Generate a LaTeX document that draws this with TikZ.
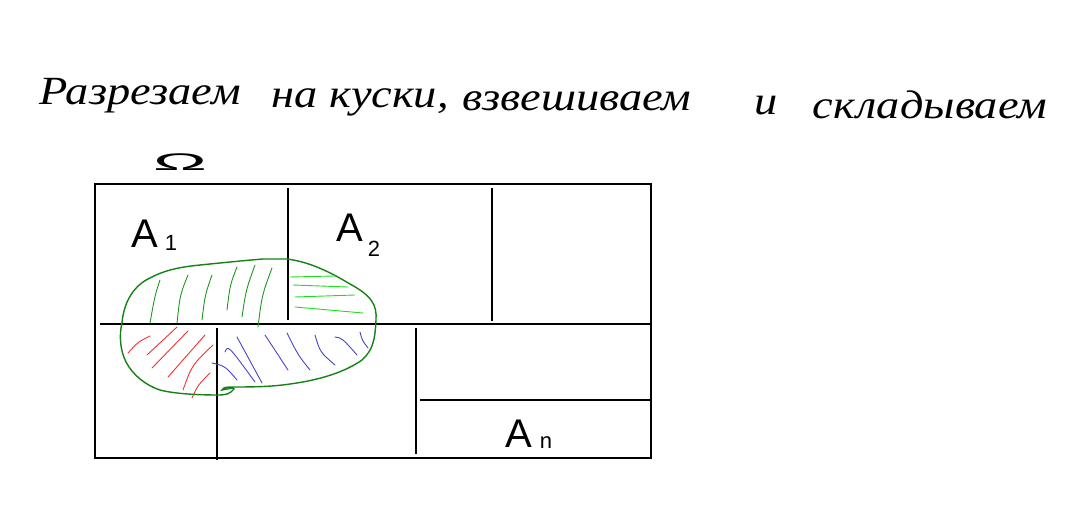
\documentclass[tikz,border=0pt]{standalone}
\usepackage{fontspec}
\setmainfont{Liberation Serif}
\setsansfont{Liberation Sans}
\newcommand{\stretchword}[1]{\scalebox{1.16}[1]{#1}}
\begin{document}
\begin{tikzpicture}[x=1pt,y=-1pt,
  frame/.style={line width=1.8pt,black},
  blob/.style={line width=1.4pt,draw={rgb,255:red,20;green,130;blue,20}},
  ghatch/.style={line width=0.9pt,draw={rgb,255:red,30;green,150;blue,30},line cap=round},
  lhatch/.style={line width=0.9pt,draw={rgb,255:red,30;green,220;blue,30},line cap=round},
  rhatch/.style={line width=0.9pt,draw={rgb,255:red,240;green,50;blue,50},line cap=round},
  bhatch/.style={line width=0.9pt,draw={rgb,255:red,70;green,70;blue,200},line cap=round},
  word/.style={anchor=base,inner sep=0pt,font=\fontsize{40}{46}\selectfont\itshape},
  lbl/.style={inner sep=0pt,font=\fontsize{40}{44}\selectfont\sffamily\mdseries},
  sub/.style={inner sep=0pt,font=\fontsize{22}{24}\selectfont\sffamily}]
\useasboundingbox (0,0) rectangle (1081,510);
% heading
\node[word] (w1) at (140,105) {\stretchword{Разрезаем}};
\node[word] (w2) at (295,108) {\stretchword{на}};
\node[word] (w3) at (389,108) {\stretchword{куски,}};
\node[word] (w4) at (577,111) {\stretchword{взвешиваем}};
\node[word] (w5) at (766,115) {\stretchword{и}};
\node[word] (w6) at (930,119) {\stretchword{складываем}};
% Omega
\node[inner sep=0pt,font=\fontsize{24}{26}\selectfont\sffamily] (om) at (180,162) {\scalebox{3}[1]{Ω}};
% frame
\draw[frame] (95,184) rectangle (651,458);
\draw[frame] (288,188) -- (288,320);
\draw[frame] (492,188) -- (492,321);
\draw[frame] (100,324) -- (650,324);
\draw[frame] (217,328) -- (217,460);
\draw[frame] (416,328) -- (416,454);
\draw[frame] (420,400) -- (651,400);
% labels
\node[lbl] (a1) at (145,234) {A};
\node[sub] (s1) at (171,243) {1};
\node[lbl] (a2) at (350,228) {A};
\node[sub] (s2) at (374,249) {2};
\node[lbl] (an) at (519,434) {A};
\node[sub] (sn) at (546,443) {n};
% blob
\draw[blob] (122,323) .. controls (124,300) and (135,285) .. (150,278)
  .. controls (165,270) and (180,267) .. (200,265)
  .. controls (230,262) and (250,260) .. (263,259)
  -- (287,259) .. controls (310,262) and (330,272) .. (350,284)
  .. controls (372,296) and (377,305) .. (376,320)
  .. controls (375,340) and (373,350) .. (362,360)
  .. controls (345,372) and (320,380) .. (290,384)
  .. controls (270,387) and (250,387) .. (230,387)
  .. controls (224,387) and (222,389) .. (222,390)
  .. controls (228,389) and (234,387) .. (234,389)
  .. controls (230,394) and (226,395) .. (218,395)
  .. controls (200,395) and (175,394) .. (160,390)
  .. controls (145,385) and (133,375) .. (126,362)
  .. controls (120,350) and (119,335) .. (122,323);
% dark green hatching
\draw[ghatch] (160,280) .. controls (155,295) .. (150,323);
\draw[ghatch] (188,275) .. controls (180,295) .. (177,323);
\draw[ghatch] (212,275) .. controls (205,295) .. (202,320);
\draw[ghatch] (237,267) .. controls (230,285) .. (227,310);
\draw[ghatch] (255,265) .. controls (246,290) .. (242,317);
\draw[ghatch] (272,268) .. controls (262,295) .. (258,327);
% light green hatching
\draw[lhatch] (290,277) -- (335,276);
\draw[lhatch] (293,285) -- (348,287);
\draw[lhatch] (295,297) -- (355,295);
\draw[lhatch] (295,307) -- (363,313);
% red hatching
\draw[rhatch] (128,353) .. controls (138,342) .. (150,336);
\draw[rhatch] (147,355) -- (177,327);
\draw[rhatch] (152,368) -- (188,331);
\draw[rhatch] (168,377) -- (205,335);
\draw[rhatch] (183,390) .. controls (192,365) .. (213,345);
\draw[rhatch] (192,398) .. controls (198,385) .. (210,373);
% blue hatching
\draw[bhatch] (212,363) .. controls (225,366) .. (237,380);
\draw[bhatch] (225,352) .. controls (228,345) .. (255,382);
\draw[bhatch] (237,337) -- (262,383);
\draw[bhatch] (265,335) -- (288,370);
\draw[bhatch] (287,333) .. controls (298,355) .. (310,370);
\draw[bhatch] (315,335) .. controls (320,352) .. (335,365);
\draw[bhatch] (335,337) .. controls (342,338) .. (357,355);
\draw[bhatch] (360,332) .. controls (362,340) .. (368,348);
\end{tikzpicture}
\end{document}
